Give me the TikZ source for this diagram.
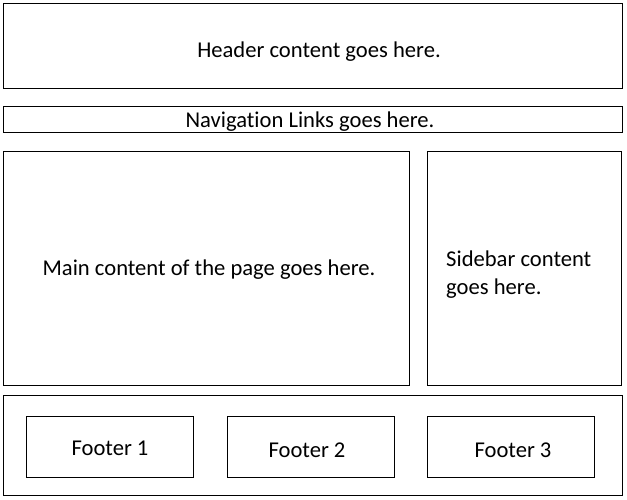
\documentclass[tikz,border=0pt]{standalone}
\usepackage{fontspec}
\setmainfont[Ligatures=NoCommon]{Carlito}
\begin{document}
\begin{tikzpicture}[x=1pt,y=-1pt,
  box/.style={draw=black,line width=0.9pt},
  txt/.style={font=\fontsize{22.6}{28}\selectfont,inner sep=0pt,anchor=center}]
\useasboundingbox (0,0) rectangle (627,499);
\fill[white] (0,0) rectangle (627,499);
\draw[box] (3.5,3.5) rectangle (622,88);
\node[txt] (header) at (319,52) {Header content goes here.};
\draw[box] (3.5,106) rectangle (622,132);
\node[txt] (nav) at (310,121.5) {Navigation Links goes here.};
\draw[box] (3.5,151) rectangle (409,385);
\node[txt] (main) at (209,270) {Main content of the page goes here.};
\draw[box] (427.5,151) rectangle (621.5,385);
\node[txt,anchor=west,align=left] (side) at (446,275) {Sidebar content\\goes here.};
\draw[box] (3.5,395.5) rectangle (622,495.5);
\draw[box] (26.5,416.5) rectangle (193.5,477);
\node[txt] (f1) at (110,448) {Footer 1};
\draw[box] (227.5,416.5) rectangle (394.5,477);
\node[txt] (f2) at (307,450) {Footer 2};
\draw[box] (427.5,416.5) rectangle (594,477);
\node[txt] (f3) at (513,450) {Footer 3};
\end{tikzpicture}
\end{document}
